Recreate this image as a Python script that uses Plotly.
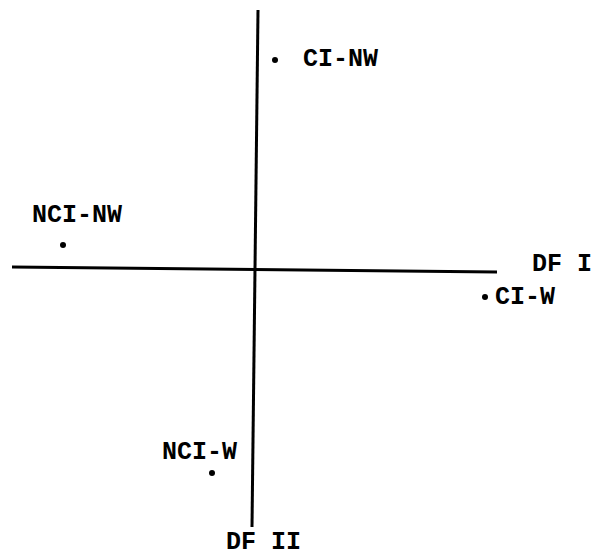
import plotly.graph_objects as go

# Group centroids on the two discriminant functions (DF I, DF II)
groups = ["CI-NW", "NCI-NW", "CI-W", "NCI-W"]
df1 = [0.40, -3.84, 4.60, -0.86]
df2 = [4.18, 0.48, -0.56, -4.08]

# Axis lines (drawn by hand in the original, slightly tilted)
h_axis_x = [-4.86, 4.84]
h_axis_y = [0.04, -0.06]
v_axis_x = [0.06, -0.06]
v_axis_y = [5.18, -5.16]
axis_names = ["DF I", "DF II"]

FONT = "Liberation Mono"
FS = 25
SCALE = 50          # pixels per unit
OX, OY = 255, 269   # origin inside the figure (pixels)
W, H = 593, 558

fig = go.Figure()
fig.add_trace(go.Scatter(x=h_axis_x, y=h_axis_y, mode="lines",
                         line=dict(color="black", width=3), hoverinfo="skip"))
fig.add_trace(go.Scatter(x=v_axis_x, y=v_axis_y, mode="lines",
                         line=dict(color="black", width=3), hoverinfo="skip"))
fig.add_trace(go.Scatter(x=df1, y=df2, mode="markers",
                         marker=dict(color="black", size=6), hoverinfo="skip"))

# label offsets (pixels) relative to each point
label_pos = {
    "CI-NW": dict(xshift=26, yshift=1, xanchor="left"),
    "NCI-NW": dict(xshift=-33, yshift=30, xanchor="left"),
    "CI-W": dict(xshift=8, yshift=0, xanchor="left"),
    "NCI-W": dict(xshift=27, yshift=21, xanchor="right"),
}
for g, x, y in zip(groups, df1, df2):
    p = label_pos[g]
    fig.add_annotation(x=x, y=y, text="<b>" + g + "</b>", showarrow=False,
                       xanchor=p["xanchor"], yanchor="middle",
                       xshift=p["xshift"], yshift=p["yshift"],
                       font=dict(family=FONT, size=FS, color="black"))

fig.add_annotation(x=h_axis_x[1], y=h_axis_y[1], text="<b>" + axis_names[0] + "</b>",
                   showarrow=False, xanchor="left", yanchor="middle", xshift=33, yshift=8,
                   font=dict(family=FONT, size=FS, color="black"))
fig.add_annotation(x=v_axis_x[1], y=v_axis_y[1], text="<b>" + axis_names[1] + "</b>",
                   showarrow=False, xanchor="center", yanchor="middle", xshift=11, yshift=-15,
                   font=dict(family=FONT, size=FS, color="black"))

fig.update_layout(
    width=W, height=H, autosize=False,
    margin=dict(l=0, r=0, t=0, b=0),
    paper_bgcolor="white", plot_bgcolor="white",
    showlegend=False,
    xaxis=dict(range=[-OX / SCALE, (W - OX) / SCALE], visible=False, fixedrange=True),
    yaxis=dict(range=[(OY - H) / SCALE, OY / SCALE], visible=False, fixedrange=True),
)
fig.write_html(
    "out.html",
    config={"displayModeBar": False},
    post_script="document.body.style.margin='0';document.body.style.overflow='hidden';",
)
